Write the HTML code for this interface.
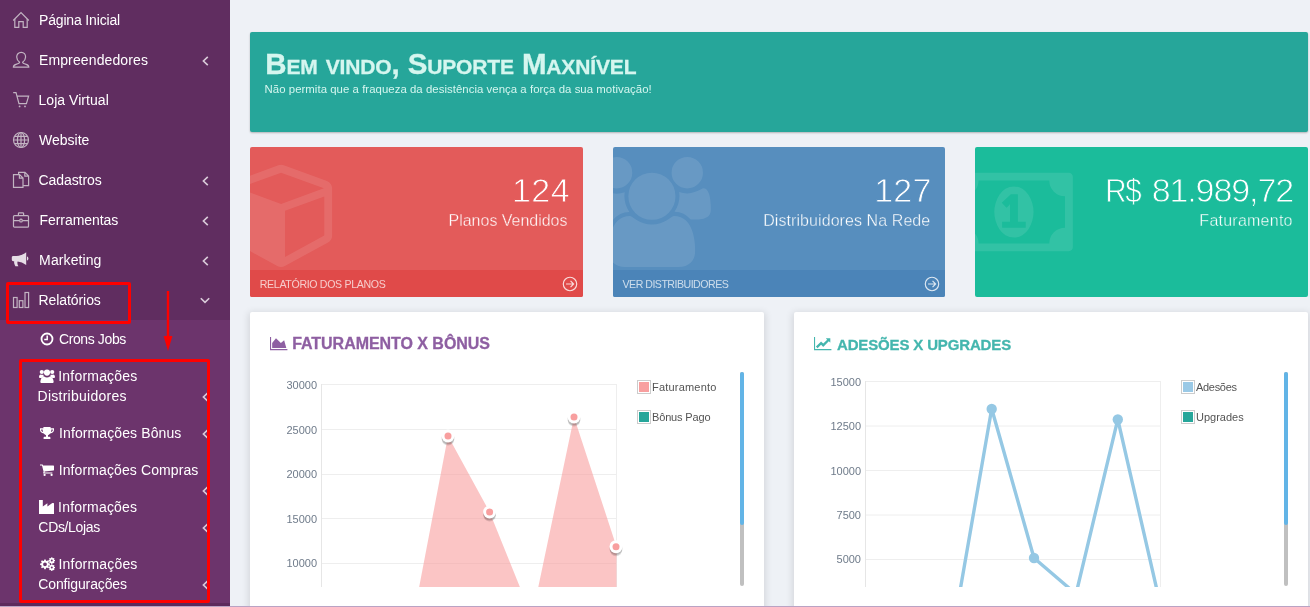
<!DOCTYPE html>
<html lang="pt-BR">
<head>
<meta charset="utf-8">
<title>Maxnível - Dashboard</title>
<style>
*{box-sizing:border-box;margin:0;padding:0}
html,body{width:1310px;height:607px;overflow:hidden}
body{position:relative;background:#eef1f6;font-family:"Liberation Sans",sans-serif;color:#333}
.abs{position:absolute}
.t{position:absolute;white-space:nowrap;line-height:1}
/* sidebar */
#sb{position:absolute;left:0;top:0;width:230px;height:607px;background:#602d60}
#sub{position:absolute;left:0;top:320px;width:230px;height:283px;background:#6c346c}
.mi{position:absolute;left:39px;font-size:14px;color:#fff;white-space:nowrap;line-height:20px}
.si{position:absolute;left:38px;font-size:14px;color:#fff;white-space:nowrap;line-height:20px}
.ic{position:absolute;left:12px;width:18px;height:18px;overflow:visible}
.ic *{fill:none;stroke:#c2b4c2;stroke-width:1.2}
.fi{position:absolute;overflow:visible;fill:#fff}
.chev{position:absolute;overflow:visible}
.chev path{fill:none;stroke:#d9cbd9;stroke-width:1.6}
/* banner */
#ban{position:absolute;left:250px;top:32px;width:1058px;height:100px;background:#26a69a;border-radius:2px;box-shadow:0 1px 2px rgba(0,0,0,.25)}
#ban h1{position:absolute;left:15px;top:16px;font-size:29.5px;line-height:32px;font-weight:bold;color:#d5f6ef;font-variant:small-caps;white-space:nowrap}
#ban p{position:absolute;left:15px;top:51px;font-size:11.4px;line-height:13px;color:#d5f6ef;white-space:nowrap}
/* stat cards */
.st{position:absolute;top:147px;height:150px;border-radius:2px;overflow:hidden;color:#fff}
.st .num{position:absolute;right:15px;top:25px;font-size:34px;line-height:36px;white-space:nowrap;letter-spacing:-1px}
.st .desc{position:absolute;right:15px;top:63px;font-size:16px;line-height:22px;white-space:nowrap}
.st .more{position:absolute;left:0;right:0;bottom:0;height:27px;background:rgba(0,0,0,.0)}
.st .more span{position:absolute;left:10.6px;top:8px;font-size:10.6px;line-height:13px;white-space:nowrap;color:rgba(255,255,255,.72)}
.st .more svg{position:absolute;right:5px;top:6px;width:16px;height:16px;overflow:visible}
.big{position:absolute;overflow:visible}
.big path{fill:#fff;fill-opacity:.1}
.ti{position:absolute;overflow:visible}
/* panels */
.pn{position:absolute;top:312px;height:300px;background:#fff;border-radius:2px;box-shadow:0 2px 7px 2px rgba(0,0,0,.1)}
.pn h3{position:absolute;top:22.6px;font-size:15.5px;line-height:20px;font-weight:bold;white-space:nowrap}
.yl{position:absolute;font-size:11px;line-height:12px;color:#6f7b8a;text-align:right;width:60px;white-space:nowrap}
.lg{position:absolute;font-size:11px;line-height:14px;color:#545454;white-space:nowrap}
.lgb{position:absolute;width:14px;height:14px;border:1px solid #ccc;padding:1px;background:#fff}
.lgb i{display:block;width:10px;height:10px}
.sbar{position:absolute;width:4px;border-radius:2px}
#n3{letter-spacing:-1.1px}#n3a{display:inline-block;margin-right:3px;transform:scaleX(.87);transform-origin:100% 50%;letter-spacing:-1.5px}#n3b{display:inline-block}
#bt{-webkit-text-stroke:.3px #d5f6ef}
#h1{-webkit-text-stroke:.3px #8e5fa2}#h2{-webkit-text-stroke:.3px #44b6ae}
/*FIT*/
#m1{letter-spacing:-0.16px;transform:translateX(-0.03px)}
#m2{letter-spacing:0.13px;transform:translateX(-0.09px)}
#m3{letter-spacing:0.04px;transform:translateX(-0.48px)}
#m4{letter-spacing:0.00px;transform:translateX(0.00px)}
#m5{letter-spacing:-0.06px;transform:translateX(-0.57px)}
#m6{letter-spacing:-0.06px;transform:translateX(0.54px)}
#m7{letter-spacing:0.10px;transform:translateX(0.12px)}
#m8{letter-spacing:-0.08px;transform:translateX(-0.45px)}
#s1{letter-spacing:-0.38px;transform:translateX(-0.09px)}
#s2{letter-spacing:0.21px;transform:translateX(-0.81px)}
#s3{letter-spacing:0.26px;transform:translateX(-0.45px)}
#s4{letter-spacing:0.11px;transform:translateX(-0.01px)}
#s5{letter-spacing:0.11px;transform:translateX(-0.33px)}
#s6{letter-spacing:0.19px;transform:translateX(-0.91px)}
#s7{letter-spacing:-0.34px;transform:translateX(0.36px)}
#s8{letter-spacing:0.18px;transform:translateX(-0.46px)}
#s9{letter-spacing:-0.13px;transform:translateX(0.27px)}
#bt{letter-spacing:-0.14px;transform:translateX(0.27px)}
#bp{letter-spacing:0.04px;transform:translateX(-0.46px)}
#n1{letter-spacing:0.44px;transform:translateX(2.07px)}
#d1{letter-spacing:-0.02px;transform:translateX(-0.54px)}
#r1{letter-spacing:-0.33px;transform:translateX(-0.81px)}
#n2{letter-spacing:0.17px;transform:translateX(1.53px)}
#d2{letter-spacing:0.08px;transform:translateX(0.32px)}
#r2{letter-spacing:-0.50px;transform:translateX(-1.08px)}
#d3{letter-spacing:0.24px;transform:translateX(-0.27px)}
#h1{letter-spacing:-0.04px;transform:translateX(-0.81px)}
#h2{letter-spacing:-0.15px;transform:translateX(-0.01px)}
/*ENDFIT*/
#st1 .num{-webkit-text-stroke:.8px #e35b5a}#st2 .num{-webkit-text-stroke:.8px #578ebe}#st3 .num{-webkit-text-stroke:.8px #1bbc9b}
#st1 .desc{-webkit-text-stroke:.35px #e35b5a}#st2 .desc{-webkit-text-stroke:.35px #578ebe}#st3 .desc{-webkit-text-stroke:.35px #1bbc9b}
</style>
</head>
<body>

<!-- SIDEBAR -->
<div id="sb">
  <div id="sub"></div>
  <div id="sbfoot" class="abs" style="left:0;top:603px;width:230px;height:3px;background:#5c2a5c"></div>

  <!-- main icons -->
  <svg class="ic" style="top:11px" viewBox="0 0 18 18"><path d="M1.2 9.5 L9 1.5 L16.8 9.5"/><path d="M2.8 8 V16.3 H6.8 V10.7 H11.2 V16.3 H15.2 V8"/></svg>
  <svg class="ic" style="top:51px" viewBox="0 0 18 18"><path d="M9.2 1.4 C6.4 1.4 4.7 3.4 4.7 6 C4.7 8.5 6 10 7.6 11.2 C7.6 12.2 6.5 12.6 4 13.4 C2 14 1.4 14.6 1.4 16.2 H16.8 C16.8 14.6 16.2 14 14.2 13.4 C11.7 12.6 10.6 12.2 10.6 11.2 C12.2 10 13.6 8.5 13.6 6 C13.6 3.4 12 1.4 9.2 1.4 Z"/></svg>
  <svg class="ic" style="top:91px" viewBox="0 0 18 18"><path d="M1.2 1.6 H4 L7 12.6 H14.4 L16.6 5.2 H5.2"/><circle cx="7.6" cy="15.4" r="0.9" style="fill:#c2b4c2;stroke:none"/><circle cx="13" cy="15.4" r="0.9" style="fill:#c2b4c2;stroke:none"/></svg>
  <svg class="ic" style="top:131px" viewBox="0 0 18 18"><circle cx="9" cy="9" r="7.5"/><ellipse cx="9" cy="9" rx="3.6" ry="7.5"/><path d="M9 1.5 V16.5 M1.5 9 H16.5 M2.6 5.4 H15.4 M2.6 12.6 H15.4"/></svg>
  <svg class="ic" style="top:171px" viewBox="0 0 18 18"><path d="M1.5 3.6 H7.6 L11 7 V16.4 H1.5 Z M7.4 3.8 V7.2 H10.8"/><path d="M6.6 3.4 V1.4 H13 L16.6 5 V14.6 H11.2 M12.8 1.6 V5.2 H16.4"/></svg>
  <svg class="ic" style="top:211px" viewBox="0 0 18 18"><rect x="1.5" y="4.6" width="15" height="11.6" rx="1"/><path d="M6.4 4.4 V2.6 Q6.4 1.8 7.2 1.8 H10.8 Q11.6 1.8 11.6 2.6 V4.4 M1.5 9.6 H7.6 M10.4 9.6 H16.5"/><rect x="7.8" y="8.2" width="2.4" height="2.8" rx="1"/></svg>
  <svg class="ic" style="top:251px;left:11px" viewBox="0 0 18 18"><path style="fill:#e6dde6;stroke:none" d="M15.2 1.2 C10.5 4.6 7.5 5 3 5 H2.2 C1.4 5 0.8 5.6 0.8 6.4 V8.8 C0.8 9.6 1.4 10.2 2.2 10.2 H3.2 C2.8 12 3.6 13.8 4.4 15.2 H7.4 C6.6 13.8 6 12.2 6.6 10.4 C9.6 10.8 12.2 11.8 15.2 14 Z M16 5.6 C17 5.8 17.4 6.8 17.4 7.6 C17.4 8.4 17 9.4 16 9.6 Z"/></svg>
  <svg class="ic" style="top:291px" viewBox="0 0 18 18"><rect x="1.5" y="6.5" width="3.6" height="10"/><rect x="7.3" y="9.7" width="3.6" height="6.8"/><rect x="13" y="1.5" width="3.6" height="15"/></svg>

  <div class="mi" id="m1" style="top:10px">Página Inicial</div>
  <div class="mi" id="m2" style="top:50px">Empreendedores</div>
  <div class="mi" id="m3" style="top:90px">Loja Virtual</div>
  <div class="mi" id="m4" style="top:130px">Website</div>
  <div class="mi" id="m5" style="top:170px">Cadastros</div>
  <div class="mi" id="m6" style="top:210px">Ferramentas</div>
  <div class="mi" id="m7" style="top:250px">Marketing</div>
  <div class="mi" id="m8" style="top:290px">Relatórios</div>

  <!-- chevrons -->
  <svg class="chev" style="left:202px;top:55.5px" width="7" height="10" viewBox="0 0 7 10"><path d="M5.8 0.8 L1.4 5 L5.8 9.2"/></svg>
  <svg class="chev" style="left:202px;top:175.5px" width="7" height="10" viewBox="0 0 7 10"><path d="M5.8 0.8 L1.4 5 L5.8 9.2"/></svg>
  <svg class="chev" style="left:202px;top:215.5px" width="7" height="10" viewBox="0 0 7 10"><path d="M5.8 0.8 L1.4 5 L5.8 9.2"/></svg>
  <svg class="chev" style="left:202px;top:255.5px" width="7" height="10" viewBox="0 0 7 10"><path d="M5.8 0.8 L1.4 5 L5.8 9.2"/></svg>
  <svg class="chev" style="left:200px;top:297px" width="10" height="7" viewBox="0 0 10 7"><path d="M0.8 1.2 L5 5.4 L9.2 1.2"/></svg>
  <svg class="chev" style="left:202px;top:392px" width="7" height="10" viewBox="0 0 7 10"><path d="M5.8 0.8 L1.4 5 L5.8 9.2"/></svg>
  <svg class="chev" style="left:202px;top:429px" width="7" height="10" viewBox="0 0 7 10"><path d="M5.8 0.8 L1.4 5 L5.8 9.2"/></svg>
  <svg class="chev" style="left:202px;top:486px" width="7" height="10" viewBox="0 0 7 10"><path d="M5.8 0.8 L1.4 5 L5.8 9.2"/></svg>
  <svg class="chev" style="left:202px;top:523px" width="7" height="10" viewBox="0 0 7 10"><path d="M5.8 0.8 L1.4 5 L5.8 9.2"/></svg>
  <svg class="chev" style="left:202px;top:580px" width="7" height="10" viewBox="0 0 7 10"><path d="M5.8 0.8 L1.4 5 L5.8 9.2"/></svg>

  <!-- submenu icons (filled, white) -->
  <svg class="fi" style="left:40px;top:332px" width="14" height="14" viewBox="0 0 14 14"><circle cx="7" cy="7" r="5.5" style="fill:none;stroke:#fff;stroke-width:1.8"/><path d="M7.2 3.6 V7.4 H4.2" style="fill:none;stroke:#fff;stroke-width:1.5"/></svg>
  <svg class="fi" style="left:39px;top:369px" width="16" height="14" viewBox="0 0 16 14"><circle cx="8" cy="3.6" r="3.1"/><path d="M2.6 14 C1.6 14 1.2 13.4 1.4 12.2 C1.8 9.4 3.2 7.4 5.2 7.4 C6 8 7 8.4 8 8.4 C9 8.4 10 8 10.8 7.4 C12.8 7.4 14.2 9.4 14.6 12.2 C14.8 13.4 14.4 14 13.4 14 Z"/><circle cx="2.8" cy="3" r="2.1"/><circle cx="13.2" cy="3" r="2.1"/><path d="M0 8.2 C0 6.4 0.8 5.4 1.8 5.4 C2.6 5.9 3.5 6 4.4 5.7 C4.4 6.4 4.6 7 5 7.4 C4 7.5 3.2 8 2.6 8.9 H1 C0.4 8.9 0 8.7 0 8.2 Z"/><path d="M16 8.2 C16 6.4 15.2 5.4 14.2 5.4 C13.4 5.9 12.5 6 11.6 5.7 C11.6 6.4 11.4 7 11 7.4 C12 7.5 12.8 8 13.4 8.9 H15 C15.6 8.9 16 8.7 16 8.2 Z"/></svg>
  <svg class="fi" style="left:40px;top:427px" width="14" height="12" viewBox="0 0 14 12"><path d="M3.4 0 H10.6 V1.2 H14 V3 C14 4.8 12.4 6.2 10.2 6.4 C9.6 7.2 8.8 7.8 8 8.2 V9.8 H9.4 C10 9.8 10.4 10.2 10.4 10.8 V12 H3.6 V10.8 C3.6 10.2 4 9.8 4.6 9.8 H6 V8.2 C5.2 7.8 4.4 7.2 3.8 6.4 C1.6 6.2 0 4.8 0 3 V1.2 H3.4 Z M1.2 2.4 V3 C1.2 3.9 2 4.8 3.1 5.1 C2.8 4.2 2.6 3.3 2.6 2.4 Z M12.8 2.4 H11.4 C11.4 3.3 11.2 4.2 10.9 5.1 C12 4.8 12.8 3.9 12.8 3 Z"/></svg>
  <svg class="fi" style="left:40px;top:464px" width="14" height="12" viewBox="0 0 14 12"><path d="M0 0.4 H2.4 C2.9 0.4 3 0.8 3.1 1.4 H13.4 C13.8 1.4 14 1.7 14 2 V6 C14 6.3 13.8 6.5 13.5 6.6 L4.6 7.6 C4.7 8 4.7 8.2 4.6 8.4 H12.4 V9.6 H3.6 C3.1 9.6 3 9.1 3.2 8.7 L3.6 7.8 L2 1.6 H0 Z"/><circle cx="4.6" cy="10.9" r="1.1"/><circle cx="11.6" cy="10.9" r="1.1"/></svg>
  <svg class="fi" style="left:39px;top:500px" width="15" height="14" viewBox="0 0 15 14"><path d="M0 0 H3.8 V6.6 L8.4 3.2 V6.6 L13 3.2 C13.6 2.8 15 2.8 15 3.6 V14 H0 Z"/></svg>
  <svg class="fi" style="left:39px;top:557px" width="16" height="14" viewBox="0 0 16 14"><path fill-rule="evenodd" d="M5.3 2.4 L6.7 2.4 L7 3.7 L7.9 4.1 L9 3.3 L10 4.3 L9.3 5.4 L9.6 6.3 L10.9 6.6 V8 L9.6 8.3 L9.3 9.2 L10 10.3 L9 11.3 L7.9 10.6 L7 11 L6.7 12.3 H5.3 L5 11 L4.1 10.6 L3 11.3 L2 10.3 L2.7 9.2 L2.4 8.3 L1.1 8 V6.6 L2.4 6.3 L2.7 5.4 L2 4.3 L3 3.3 L4.1 4.1 L5 3.7 Z M6 5.4 A1.9 1.9 0 1 0 6 9.2 A1.9 1.9 0 1 0 6 5.4 Z"/><path fill-rule="evenodd" d="M12.3 0.2 H13.3 L13.5 1 L14.1 1.3 L14.8 0.9 L15.5 1.6 L15.1 2.3 L15.3 2.9 L16 3.1 V4.1 L15.3 4.3 L15.1 4.9 L15.5 5.6 L14.8 6.3 L14.1 5.9 L13.5 6.2 L13.3 7 H12.3 L12.1 6.2 L11.5 5.9 L10.8 6.3 L10.1 5.6 L10.5 4.9 L10.3 4.3 L9.6 4.1 V3.1 L10.3 2.9 L10.5 2.3 L10.1 1.6 L10.8 0.9 L11.5 1.3 L12.1 1 Z M12.8 2.6 A1 1 0 1 0 12.8 4.6 A1 1 0 1 0 12.8 2.6 Z"/><path fill-rule="evenodd" d="M12.3 7.2 H13.3 L13.5 8 L14.1 8.3 L14.8 7.9 L15.5 8.6 L15.1 9.3 L15.3 9.9 L16 10.1 V11.1 L15.3 11.3 L15.1 11.9 L15.5 12.6 L14.8 13.3 L14.1 12.9 L13.5 13.2 L13.3 14 H12.3 L12.1 13.2 L11.5 12.9 L10.8 13.3 L10.1 12.6 L10.5 11.9 L10.3 11.3 L9.6 11.1 V10.1 L10.3 9.9 L10.5 9.3 L10.1 8.6 L10.8 7.9 L11.5 8.3 L12.1 8 Z M12.8 9.6 A1 1 0 1 0 12.8 11.6 A1 1 0 1 0 12.8 9.6 Z"/></svg>

  <div class="si" id="s1" style="top:329px;left:59px">Crons Jobs</div>
  <div class="si" id="s2" style="top:366px;left:59px">Informações</div>
  <div class="si" id="s3" style="top:386px">Distribuidores</div>
  <div class="si" id="s4" style="top:423px;left:59px">Informações Bônus</div>
  <div class="si" id="s5" style="top:460px;left:59px">Informações Compras</div>
  <div class="si" id="s6" style="top:497px;left:59px">Informações</div>
  <div class="si" id="s7" style="top:517px">CDs/Lojas</div>
  <div class="si" id="s8" style="top:554px;left:59px">Informações</div>
  <div class="si" id="s9" style="top:574px">Configurações</div>

  <!-- annotations -->
  <div class="abs" style="left:6px;top:282px;width:125px;height:42px;border:3px solid #fe0000;border-radius:2px"></div>
  <div class="abs" style="left:19px;top:359px;width:191px;height:244px;border:3px solid #fe0000;border-radius:2px"></div>
  <svg class="abs" style="left:160px;top:288px;overflow:visible" width="16" height="66" viewBox="0 0 16 66"><path d="M8 3 V52" style="stroke:#fe0000;stroke-width:2.4;fill:none"/><path d="M3.6 48 L8 63 L12.4 48 Z" style="fill:#fe0000"/></svg>
</div>

<!-- BANNER -->
<div id="ban">
  <h1 id="bt">Bem vindo, Suporte Maxnível</h1>
  <p id="bp">Não permita que a fraqueza da desistência vença a força da sua motivação!</p>
</div>

<!-- STAT CARDS -->
<div class="st" id="st1" style="left:250px;width:333px;background:#e35b5a">
  <svg class="big" style="left:-20.1px;top:9.5px" width="130" height="120"><path transform="scale(0.06138) translate(0,0)" d="M896 1629l640-349v-636l-640 233v752zM832 764l698-254-698-254-698 254zM1664 512v768q0 35-18 65t-49 47l-704 384q-28 16-61 16t-61-16l-704-384q-31-17-49-47t-18-65v-768q0-40 23-73t61-47l704-256q22-8 44-8t44 8l704 256q38 14 61 47t23 73z"/></svg>
  <div class="num" id="n1">124</div>
  <div class="desc" id="d1">Planos Vendidos</div>
  <div class="more" style="background:#e04a49"><span id="r1">RELATÓRIO DOS PLANOS</span><svg viewBox="0 0 15 15"><circle cx="7.5" cy="7.5" r="6.3" fill="none" stroke="#fff" stroke-opacity=".8" stroke-width="1.1"/><path d="M3.8 7.5 H10.6 M8 4.6 L10.9 7.5 L8 10.4" fill="none" stroke="#fff" stroke-opacity=".8" stroke-width="1.1"/></svg></div>
</div>
<div class="st" id="st2" style="left:613px;width:332px;background:#578ebe">
  <svg class="big" style="left:-19.9px;top:9.5px" width="130" height="120"><path transform="scale(0.06138) translate(0,0)" d="M593 896q-162 5-265 128h-134q-82 0-138-40.5t-56-118.5q0-353 124-353 6 0 43.500 21t97.500 42.500 119 21.500q67 0 133-23-5 37-5 66 0 139 81 256zM1664 1533q0 120-73 189.500t-194 69.500h-874q-121 0-194-69.500t-73-189.500q0-53 3.500-103.500t14-109 26.500-108.500 43-97.500 62-81 85.500-53.500 111.500-20q10 0 43 21.500t73 48 107 48 135 21.500 135-21.500 107-48 73-48 43-21.500q61 0 111.500 20t85.500 53.500 62 81 43 97.500 26.500 108.500 14 109 3.500 103.500zM640 256q0 106-75 181t-181 75-181-75-75-181 75-181 181-75 181 75 75 181zM1344 640q0 159-112.500 271.500t-271.500 112.500-271.500-112.500-112.500-271.500 112.500-271.500 271.500-112.500 271.500 112.500 112.500 271.500zM1920 861q0 78-56 118.500t-138 40.500h-134q-103-123-265-128 81-117 81-256 0-29-5-66 66 23 133 23 59 0 119-21.500t97.500-42.500 43.500-21q124 0 124 353zM1792 256q0 106-75 181t-181 75-181-75-75-181 75-181 181-75 181 75 75 181z"/></svg>
  <div class="num" id="n2">127</div>
  <div class="desc" id="d2">Distribuidores Na Rede</div>
  <div class="more" style="background:#4b84b8"><span id="r2">VER DISTRIBUIDORES</span><svg viewBox="0 0 15 15"><circle cx="7.5" cy="7.5" r="6.3" fill="none" stroke="#fff" stroke-opacity=".8" stroke-width="1.1"/><path d="M3.8 7.5 H10.6 M8 4.6 L10.9 7.5 L8 10.4" fill="none" stroke="#fff" stroke-opacity=".8" stroke-width="1.1"/></svg></div>
</div>
<div class="st" id="st3" style="left:975px;width:333px;background:#1bbc9b">
  <svg class="big" style="left:-19.6px;top:9.5px" width="130" height="120"><path transform="scale(0.06138) translate(0,256)" d="M768 896h384v-96h-128v-448h-114l-148 137 77 80q42-37 55-57h2v288h-128v96zM1280 640q0 70-21 142t-59.500 134-101.500 101-138 39-138-39-101.500-101-59.500-134-21-142 21-142 59.500-134 101.500-101 138-39 138 39 101.500 101 59.500 134 21 142zM1792 896v-512q-106 0-181-75t-75-181h-1152q0 106-75 181t-181 75v512q106 0 181 75t75 181h1152q0-106 75-181t181-75zM1920 64v1152q0 26-19 45t-45 19h-1792q-26 0-45-19t-19-45v-1152q0-26 19-45t45-19h1792q26 0 45 19t19 45z"/></svg>
  <div class="num" id="n3"><span id="n3a">R$</span> <span id="n3b">81.989,72</span></div>
  <div class="desc" id="d3">Faturamento</div>
</div>

<!-- PANELS -->
<div class="pn" id="p1" style="left:250px;width:514px">
  <svg class="ti" style="left:19.6px;top:23.6px" width="18" height="18"><path fill="#8e5fa2" transform="scale(0.0085)" d="M2048 1536v128h-2048v-1536h128v1408h1920zM1664 512l256 896h-1664v-576l448-576 576 576z"/></svg>
  <h3 id="h1" style="left:43px;color:#8e5fa2;font-size:16px;top:21.8px">FATURAMENTO X BÔNUS</h3>
</div>
<div class="pn" id="p2" style="left:794px;width:514px">
  <svg class="ti" style="left:19.6px;top:23.6px" width="18" height="18"><path fill="#44b6ae" transform="scale(0.0085)" d="M2048 1536v128h-2048v-1536h128v1408h1920zM1920 288v435q0 21-19.500 29.500t-35.500-7.500l-121-121-633 633q-10 10-23 10t-23-10l-233-233-416 416-192-192 585-585q10-10 23-10t23 10l233 233 464-464-121-121q-16-16-7.500-35.500t29.500-19.500h435q14 0 23 9t9 23z"/></svg>
  <h3 id="h2" style="left:43px;color:#44b6ae;font-size:15px;top:23px">ADESÕES X UPGRADES</h3>
</div>

<!-- CHARTS (page coords) -->
<svg class="abs" style="left:0;top:0" width="1310" height="607" viewBox="0 0 1310 607">
  <defs>
    <clipPath id="c1"><rect x="250" y="372" width="514" height="215"/></clipPath>
    <clipPath id="c2"><rect x="794" y="372" width="514" height="215"/></clipPath>
  </defs>
  <g clip-path="url(#c1)">
    <g stroke="#eee" stroke-width="1" fill="none">
      <path d="M321 384.5H617 M321 429.5H617 M321 474.5H617 M321 518.5H617 M321 563.5H617 M321 607.5H617"/>
      <path d="M616.5 384V640"/>
    </g>
    <path d="M321.5 384V640" stroke="#e6e6e6" fill="none"/>
    <path d="M321 658 L363.2 658 L405.6 658 L448 436 L489.6 512 L532 617 L574 417 L616.5 546.7 L616.5 700 L321 700 Z" fill="#f89f9f" fill-opacity=".6"/>
    <g>
      <circle cx="448" cy="439.4" r="6.2" fill="#000" fill-opacity=".13"/><circle cx="448" cy="437.8" r="6.5" fill="#000" fill-opacity=".16"/><circle cx="448" cy="436" r="6.5" fill="#fff"/><circle cx="448" cy="436" r="3.5" fill="#f89f9f"/>
      <circle cx="489.6" cy="515.4" r="6.2" fill="#000" fill-opacity=".13"/><circle cx="489.6" cy="513.8" r="6.5" fill="#000" fill-opacity=".16"/><circle cx="489.6" cy="512" r="6.5" fill="#fff"/><circle cx="489.6" cy="512" r="3.5" fill="#f89f9f"/>
      <circle cx="574" cy="420.4" r="6.2" fill="#000" fill-opacity=".13"/><circle cx="574" cy="418.8" r="6.5" fill="#000" fill-opacity=".16"/><circle cx="574" cy="417" r="6.5" fill="#fff"/><circle cx="574" cy="417" r="3.5" fill="#f89f9f"/>
      <circle cx="616" cy="550.1" r="6.2" fill="#000" fill-opacity=".13"/><circle cx="616" cy="548.5" r="6.5" fill="#000" fill-opacity=".16"/><circle cx="616" cy="546.7" r="6.5" fill="#fff"/><circle cx="616" cy="546.7" r="3.5" fill="#f89f9f"/>
    </g>
  </g>
  <g clip-path="url(#c2)">
    <g stroke="#eee" stroke-width="1" fill="none">
      <path d="M865 381.5H1161 M865 426H1161 M865 470.5H1161 M865 515H1161 M865 559.5H1161 M865 604H1161"/>
      <path d="M1160.5 381V640"/>
    </g>
    <path d="M865.5 381V640" stroke="#e6e6e6" fill="none"/>
    <path d="M865 648 L907.2 648 L949.4 652 L991.7 408.8 L1034 558 L1076 594 L1117.8 419.3 L1160.4 605" fill="none" stroke="#95c8e4" stroke-width="3.4" stroke-linejoin="round"/>
    <circle cx="991.7" cy="409" r="5.2" fill="#95c8e4"/><circle cx="1034" cy="558" r="5.2" fill="#95c8e4"/><circle cx="1117.8" cy="419.5" r="5.2" fill="#95c8e4"/>
  </g>
</svg>
<div class="yl" id="yy1" style="left:257px;top:379px">30000</div>
<div class="yl" id="yy2" style="left:257px;top:424px">25000</div>
<div class="yl" id="yy3" style="left:257px;top:468px">20000</div>
<div class="yl" id="yy4" style="left:257px;top:513px">15000</div>
<div class="yl" id="yy5" style="left:257px;top:557px">10000</div>
<div class="yl" id="yy6" style="left:801px;top:376px">15000</div>
<div class="yl" id="yy7" style="left:801px;top:420px">12500</div>
<div class="yl" id="yy8" style="left:801px;top:465px">10000</div>
<div class="yl" id="yy9" style="left:801px;top:509px">7500</div>
<div class="yl" id="yy10" style="left:801px;top:553px">5000</div>

<div class="lgb" style="left:637px;top:380px"><i style="background:#f89f9f"></i></div>
<div class="lg" id="l1" style="letter-spacing:.2px;left:652px;top:380px">Faturamento</div>
<div class="lgb" style="left:637px;top:410px"><i style="background:#26a69a"></i></div>
<div class="lg" id="l2" style="letter-spacing:-.15px;left:652px;top:410px">Bônus Pago</div>
<div class="lgb" style="left:1181px;top:380px"><i style="background:#9ac9e6"></i></div>
<div class="lg" id="l3" style="letter-spacing:-.3px;left:1196px;top:380px">Adesões</div>
<div class="lgb" style="left:1181px;top:410px"><i style="background:#26a69a"></i></div>
<div class="lg" id="l4" style="left:1196px;top:410px">Upgrades</div>

<div class="sbar" style="left:740px;top:372px;height:214px;background:#c0c0c0"></div>
<div class="sbar" style="left:740px;top:372px;height:153px;background:#62b4e6"></div>
<div class="sbar" style="left:1284px;top:372px;height:214px;background:#c0c0c0"></div>
<div class="sbar" style="left:1284px;top:372px;height:153px;background:#62b4e6"></div>

<div class="abs" style="left:0;top:606px;width:1310px;height:1px;background:#b9a3c4"></div>
</body>
</html>
